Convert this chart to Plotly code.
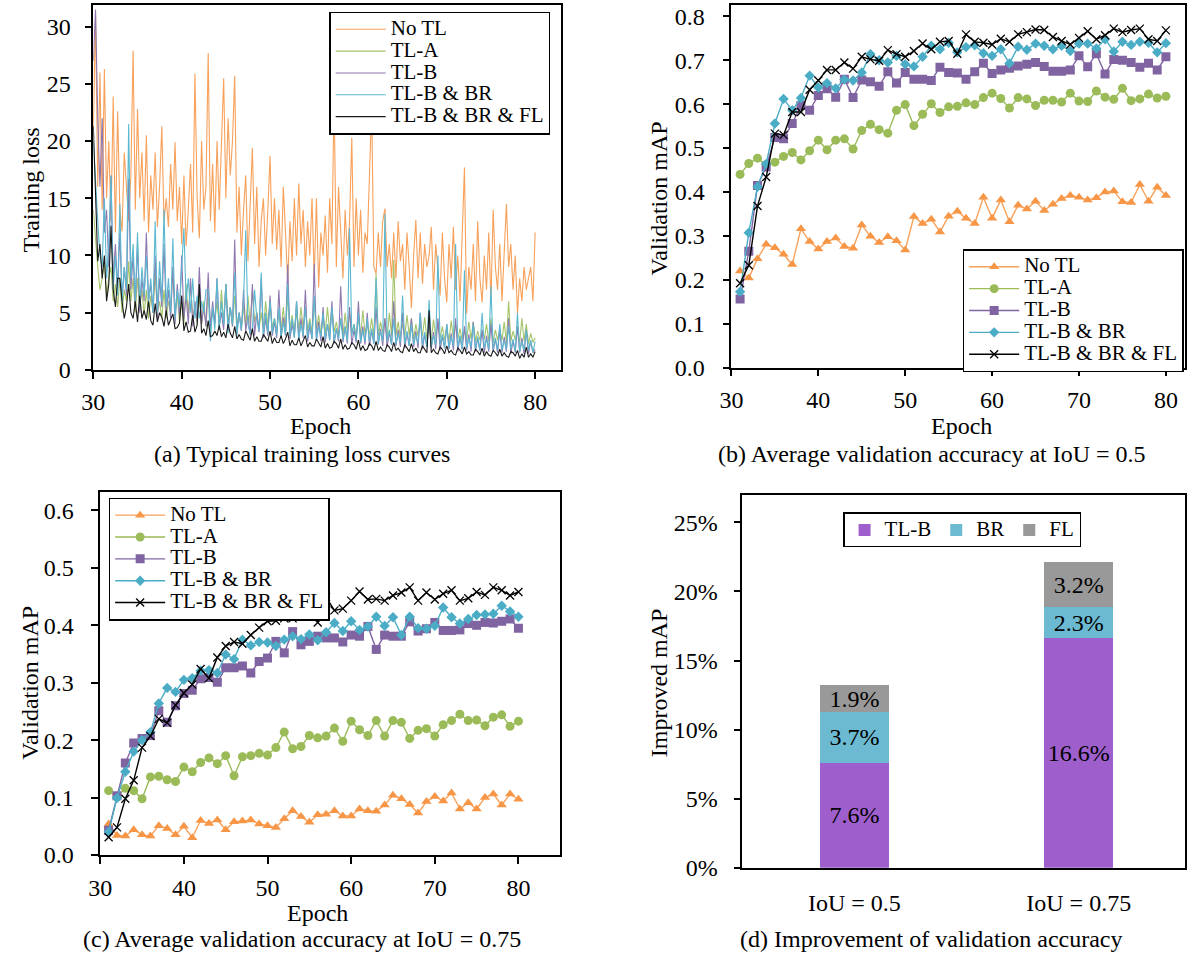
import numpy as np
import plotly.graph_objects as go

SERIF = "Liberation Serif"
W, H = 1187, 968

# ---------------- Data ----------------
SERIES = ["No TL", "TL-A", "TL-B", "TL-B & BR", "TL-B & BR & FL"]
COLORS = ["#F79646", "#9BBB59", "#8064A2", "#4BACC6", "#000000"]
LOSS_COLORS = ["#F8A15A", "#A5C46A", "#8F77B0", "#5BB8D0", "#1A1A1A"]

# (a) training loss, sampled every 0.25 epoch from 30 to 80
loss_epoch = np.arange(30, 80.001, 0.25)

loss_no_tl = [
    21, 31, 16, 26, 14, 26.3, 15, 20, 13, 23.9, 12, 22.6, 14, 12.1, 19, 16,
    13, 17, 27.9, 14, 22.8, 15, 19, 13, 20.5, 12, 17, 14, 19, 12.5, 16, 21.3,
    13, 15, 12.5, 18, 14, 19.9, 13, 16, 11, 17, 10.8, 14, 18, 12, 25.9, 15,
    11.5, 20, 14, 16, 27.7, 13, 18, 12, 20, 14, 19, 25.5, 15, 22, 17, 20,
    25.7, 12, 16, 10, 14, 17, 9.5, 15, 19.4, 11, 16, 9, 13, 15, 10, 14,
    18.7, 11, 15, 10.5, 14, 9, 16, 12, 7.6, 13, 9.5, 15, 10, 16.3, 11, 14,
    9, 13, 10, 15, 8, 15, 7.2, 12, 10, 13.5, 8.5, 15, 11, 24, 9, 16,
    12, 8, 14, 10, 13, 20.3, 9, 15, 10, 14, 8.5, 12, 11, 17, 23, 9,
    8.4, 12, 9, 13, 14.1, 9, 11, 8, 12, 8, 13, 9.5, 11, 7, 12, 9,
    5.4, 10, 13.1, 8, 12, 7.5, 11, 9, 10, 12.5, 7, 11, 9, 6.5, 12, 8,
    5.9, 11, 8, 12.5, 7, 10, 6, 12, 17.7, 4.9, 9, 7, 11, 6, 13, 8,
    5.9, 10, 7, 12, 6, 14, 9, 7, 11, 6, 10, 14.5, 9, 11, 7, 10,
    4.9, 8, 6, 9, 7, 8, 9, 6, 12,
]
loss_tl_a = [
    14, 11, 9, 7, 8, 9.5, 6.5, 8, 9, 6, 7.5, 5.5, 8, 5, 7, 6,
    9.5, 6, 8, 5, 8, 5.5, 7, 4.8, 7, 4.5, 6.5, 5, 8.5, 5, 6, 4.5,
    7, 4.5, 6, 5, 9, 5, 6.5, 4.2, 6, 4, 7.5, 4.8, 7.5, 4.5, 5.5, 4,
    6.5, 4, 6, 3.8, 7, 4, 5, 4.2, 6, 3.8, 7, 4, 7.5, 4.2, 5.5, 3.8,
    6.5, 4, 5, 3.6, 5.5, 3.8, 6.5, 4, 7, 4.2, 5, 3.5, 5, 3.5, 6, 3.8,
    6, 3.7, 4.5, 3.4, 5, 3.5, 5.5, 3.3, 6.5, 3.6, 4.8, 3.2, 5, 3.3, 5.5, 3.5,
    5.5, 3.4, 4.5, 3.2, 6, 3.5, 4.8, 3.1, 4.5, 3.2, 5.5, 3.3, 5.5, 3.3, 4.2, 3,
    4.5, 3, 5, 3.2, 5, 3.2, 4, 2.9, 4.5, 3, 5.2, 3.1, 4, 3.1, 4.5, 2.9,
    8.4, 3, 4.2, 3.2, 4.5, 2.8, 5, 3, 9.6, 3, 4.2, 2.8, 4, 2.9, 4.8, 3,
    4.5, 2.7, 4, 2.9, 4, 3, 4.6, 2.7, 3.8, 2.6, 4.4, 2.9, 4.2, 2.8, 3.8, 2.6,
    3.6, 2.5, 4.3, 2.8, 4, 2.7, 3.6, 2.5, 3.5, 2.6, 4.2, 2.7, 4.2, 2.5, 3.4, 2.6,
    3.5, 2.7, 4, 2.5, 4.5, 2.4, 3.5, 2.6, 3.5, 2.6, 4.2, 2.4, 6, 2.5, 3.4, 2.6,
    3.5, 2.4, 4.5, 2.5, 4, 2.3, 3.2, 2.4, 2.8,
]
loss_tl_b = [
    27, 31.5, 22, 16, 22, 12, 14, 9, 17, 8, 11, 7, 12, 6, 9, 6.5,
    16.7, 7, 10, 5.5, 11, 5, 8, 6, 12, 6, 7.5, 5, 10, 4.5, 8, 5.5,
    11, 5, 7, 4.5, 9, 4, 7.5, 4.8, 10, 4.5, 6.5, 4, 8, 3.8, 6, 4.2,
    9, 4, 5.5, 3.8, 8.5, 3.5, 6, 4, 8, 3.8, 5, 3.5, 7.5, 3.5, 5.5, 3.8,
    11.4, 3.2, 5, 3.4, 7, 3.4, 4.8, 3, 7.5, 3, 5, 3.3, 8, 2.8, 4.5, 3,
    6.5, 3, 4.2, 2.8, 7, 2.8, 4.6, 3, 9.2, 2.7, 4, 2.9, 6, 2.6, 4.5, 2.8,
    7, 2.5, 3.8, 2.7, 9.3, 2.6, 4.2, 2.5, 5.5, 2.4, 4, 2.6, 6, 2.3, 3.6, 2.5,
    7.3, 2.4, 3.8, 2.3, 5.5, 2.2, 3.5, 2.4, 6, 2.3, 3.8, 2.2, 5, 2.1, 3.4, 2.3,
    5.5, 2.2, 3.6, 2.1, 4.5, 2, 3.3, 2.2, 6, 2.1, 3.5, 2, 5, 1.9, 3.2, 2.1,
    4.5, 2, 3.4, 1.9, 5, 1.8, 3.1, 2, 4.2, 1.9, 3.3, 1.8, 4.5, 1.7, 3, 1.9,
    4, 1.8, 3.2, 1.7, 4.5, 1.6, 2.9, 1.8, 3.8, 1.7, 3.1, 1.6, 4.2, 1.6, 2.8, 1.7,
    3.5, 1.5, 3, 1.6, 4, 1.6, 2.7, 1.5, 3.5, 1.5, 2.9, 1.6, 4.5, 1.4, 2.6, 1.5,
    3.8, 1.5, 2.8, 1.4, 3.5, 1.4, 2.5, 1.5, 1.8,
]
loss_tl_b_br = [
    20, 16, 13, 10, 9, 15, 8, 11, 17, 7, 10, 6.5, 14.5, 6, 9, 7,
    21.5, 8, 11, 6, 12, 5.5, 9, 6.5, 10, 6, 8, 5, 13, 5, 9.5, 6,
    14, 5.5, 8, 5, 11.5, 4.5, 7, 5.5, 9, 12.4, 6, 8, 5, 8, 4.5, 6.5,
    4.5, 6, 5, 7, 7, 2.5, 5.5, 3.5, 8, 3.5, 6, 4, 7.5, 3.2, 5.5, 4,
    8.5, 3, 5, 3.5, 6, 12.2, 4, 3.2, 3.5, 7, 4.5, 3.4, 8.5, 3, 5, 3.2,
    6, 3.2, 4.5, 3, 5.5, 2.8, 4.2, 3.1, 7.5, 3, 4.5, 2.8, 6, 2.7, 4, 3,
    5.5, 2.8, 4.2, 2.7, 6.5, 2.6, 3.8, 2.9, 5, 2.7, 4, 2.6, 5.5, 2.5, 3.6, 2.7,
    4.5, 2.6, 3.8, 2.5, 12.4, 3, 4, 2.6, 5, 2.4, 3.5, 2.5, 4.5, 2.5, 3.6, 2.3,
    8, 2.3, 3.4, 2.5, 13.6, 2.5, 3.5, 2.2, 4.5, 2.2, 3.2, 2.4, 6.5, 2.3, 3.4, 2.1,
    4, 2.2, 3.1, 2.3, 5, 2.1, 3.3, 2, 6.1, 2, 3, 2.2, 10, 2.2, 3.1, 1.9,
    4, 1.9, 2.9, 2.1, 11, 2, 3, 1.8, 8.7, 1.9, 2.8, 2, 4, 1.8, 2.9, 1.7,
    5, 1.9, 2.7, 1.8, 7.3, 1.8, 2.8, 1.7, 4, 1.7, 2.6, 1.8, 3.8, 1.8, 2.7, 1.6,
    5, 1.6, 2.5, 1.7, 3.5, 1.7, 2.6, 1.5, 2.5,
]
loss_fl = [
    21.3, 15.5, 9.5, 11, 8, 10, 6, 7.5, 12.6, 7, 5.5, 8, 8, 6, 4.5, 5.5,
    7.5, 5, 4.5, 6, 4.2, 6.5, 4.5, 5.2, 4.4, 6, 4.3, 3.9, 5.8, 4.2, 5, 4.6,
    3.8, 5.2, 3.9, 4.4, 4.9, 3.6, 3.7, 4.1, 6.5, 3.4, 4.2, 3.3, 3.4, 4.8, 3.3, 3.9,
    7.5, 3.2, 3.6, 3, 4.3, 2.9, 3, 3.4, 3, 3.9, 2.9, 3.3, 2.8, 4, 3.2, 2.8,
    3.8, 2.7, 3.1, 2.7, 2.6, 3.4, 3, 2.6, 3.6, 2.5, 2.9, 2.5, 2.5, 3.1, 2.8, 2.5,
    3.4, 2.3, 2.8, 2.4, 2.4, 3, 2.3, 2.7, 3.3, 2.1, 2.6, 2.2, 2.2, 2.8, 2.1, 2.5,
    3, 2, 2.4, 2.1, 2.1, 2.7, 2.4, 2, 2.9, 1.9, 2.3, 1.9, 2, 2.5, 2.3, 1.9,
    2.7, 1.8, 2.2, 1.8, 1.9, 2.4, 2.2, 1.8, 2.6, 1.7, 2.1, 1.7, 1.8, 2.3, 2.1, 1.7,
    2.5, 1.7, 2, 1.7, 1.6, 2.2, 2, 1.6, 2.4, 1.7, 1.9, 1.6, 1.5, 2.2, 1.9, 1.6,
    2.3, 1.6, 1.9, 1.5, 1.5, 2.1, 1.8, 1.5, 5.2, 1.5, 1.8, 1.5, 1.4, 2, 1.8, 1.4,
    2.1, 1.5, 1.7, 1.4, 1.3, 1.9, 1.7, 1.4, 2, 1.4, 1.6, 1.3, 1.3, 1.8, 1.6, 1.3,
    1.9, 1.2, 1.6, 1.3, 1.2, 1.7, 1.5, 1.2, 1.8, 1.2, 1.5, 1.2, 1.1, 1.6, 1.5, 1.2,
    1.7, 1.0, 1.4, 1.1, 2, 1.1, 1.4, 1.1, 1.6,
]

# (b) validation mAP at IoU = 0.5 (epochs 31..80)
epochs = list(range(31, 81))
map50_no_tl = [
    0.220, 0.204, 0.248, 0.281, 0.273, 0.258, 0.235, 0.316, 0.287, 0.270,
    0.287, 0.295, 0.276, 0.272, 0.325, 0.299, 0.285, 0.298, 0.289, 0.268,
    0.344, 0.328, 0.338, 0.309, 0.345, 0.356, 0.340, 0.328, 0.388, 0.340,
    0.382, 0.332, 0.370, 0.361, 0.379, 0.358, 0.372, 0.385, 0.392, 0.388,
    0.382, 0.387, 0.400, 0.402, 0.378, 0.376, 0.417, 0.379, 0.411, 0.392,
]
map50_tl_a = [
    0.440, 0.465, 0.477, 0.462, 0.468, 0.481, 0.490, 0.473, 0.494, 0.518,
    0.496, 0.518, 0.521, 0.498, 0.540, 0.554, 0.542, 0.534, 0.586, 0.599,
    0.551, 0.577, 0.601, 0.581, 0.594, 0.595, 0.603, 0.599, 0.615, 0.625,
    0.613, 0.591, 0.615, 0.612, 0.597, 0.609, 0.609, 0.605, 0.625, 0.607,
    0.606, 0.630, 0.616, 0.611, 0.636, 0.608, 0.612, 0.623, 0.614, 0.618,
]
map50_tl_b = [
    0.156, 0.265, 0.415, 0.457, 0.524, 0.521, 0.556, 0.597, 0.586, 0.620,
    0.635, 0.616, 0.657, 0.615, 0.655, 0.651, 0.641, 0.674, 0.648, 0.672,
    0.657, 0.657, 0.654, 0.684, 0.672, 0.671, 0.657, 0.674, 0.693, 0.670,
    0.678, 0.682, 0.687, 0.691, 0.695, 0.686, 0.675, 0.675, 0.678, 0.710,
    0.685, 0.715, 0.669, 0.702, 0.700, 0.695, 0.684, 0.693, 0.678, 0.708,
]
map50_tl_b_br = [
    0.173, 0.307, 0.412, 0.464, 0.556, 0.612, 0.586, 0.614, 0.665, 0.638,
    0.648, 0.636, 0.656, 0.654, 0.672, 0.714, 0.700, 0.695, 0.710, 0.691,
    0.686, 0.708, 0.733, 0.725, 0.740, 0.718, 0.730, 0.734, 0.716, 0.710,
    0.725, 0.693, 0.731, 0.724, 0.738, 0.733, 0.725, 0.733, 0.721, 0.738,
    0.738, 0.727, 0.748, 0.720, 0.742, 0.735, 0.742, 0.740, 0.718, 0.739,
]
map50_fl = [
    0.192, 0.233, 0.368, 0.434, 0.533, 0.530, 0.582, 0.582, 0.633, 0.654,
    0.678, 0.678, 0.695, 0.681, 0.708, 0.702, 0.699, 0.723, 0.714, 0.708,
    0.721, 0.738, 0.725, 0.742, 0.744, 0.715, 0.759, 0.742, 0.740, 0.736,
    0.749, 0.742, 0.759, 0.764, 0.770, 0.769, 0.753, 0.744, 0.736, 0.751,
    0.766, 0.748, 0.757, 0.772, 0.764, 0.769, 0.772, 0.748, 0.744, 0.768,
]

# (c) validation mAP at IoU = 0.75 (epochs 31..80)
map75_no_tl = [
    0.054, 0.034, 0.033, 0.044, 0.035, 0.033, 0.051, 0.046, 0.035, 0.050,
    0.030, 0.060, 0.055, 0.061, 0.044, 0.058, 0.059, 0.061, 0.054, 0.051,
    0.048, 0.063, 0.077, 0.067, 0.057, 0.070, 0.071, 0.077, 0.068, 0.068,
    0.080, 0.077, 0.076, 0.087, 0.104, 0.098, 0.088, 0.073, 0.093, 0.102,
    0.094, 0.108, 0.080, 0.091, 0.080, 0.100, 0.106, 0.087, 0.106, 0.097,
]
map75_tl_a = [
    0.112, 0.101, 0.116, 0.112, 0.098, 0.136, 0.137, 0.131, 0.128, 0.153,
    0.145, 0.161, 0.169, 0.159, 0.173, 0.138, 0.171, 0.173, 0.177, 0.174,
    0.187, 0.214, 0.185, 0.189, 0.208, 0.204, 0.207, 0.221, 0.198, 0.233,
    0.218, 0.208, 0.234, 0.207, 0.234, 0.231, 0.203, 0.217, 0.220, 0.207,
    0.227, 0.234, 0.245, 0.234, 0.235, 0.225, 0.240, 0.244, 0.224, 0.233,
]
map75_tl_b = [
    0.043, 0.103, 0.160, 0.195, 0.203, 0.208, 0.251, 0.231, 0.260, 0.281,
    0.287, 0.307, 0.309, 0.301, 0.326, 0.326, 0.329, 0.317, 0.337, 0.343,
    0.372, 0.352, 0.389, 0.366, 0.372, 0.381, 0.378, 0.378, 0.371, 0.383,
    0.381, 0.398, 0.358, 0.383, 0.381, 0.381, 0.406, 0.390, 0.394, 0.405,
    0.391, 0.391, 0.392, 0.403, 0.400, 0.405, 0.404, 0.407, 0.411, 0.395,
]
map75_tl_b_br = [
    0.040, 0.099, 0.145, 0.180, 0.200, 0.214, 0.264, 0.291, 0.284, 0.305,
    0.308, 0.321, 0.322, 0.317, 0.349, 0.341, 0.375, 0.365, 0.371, 0.370,
    0.364, 0.375, 0.381, 0.376, 0.384, 0.374, 0.388, 0.404, 0.390, 0.407,
    0.392, 0.398, 0.415, 0.399, 0.414, 0.383, 0.415, 0.395, 0.394, 0.399,
    0.431, 0.414, 0.403, 0.411, 0.418, 0.419, 0.420, 0.434, 0.424, 0.415,
]
map75_fl = [
    0.031, 0.048, 0.098, 0.130, 0.187, 0.207, 0.237, 0.230, 0.261, 0.282,
    0.297, 0.324, 0.308, 0.344, 0.364, 0.371, 0.368, 0.383, 0.396, 0.407,
    0.408, 0.412, 0.412, 0.428, 0.423, 0.405, 0.449, 0.426, 0.429, 0.443,
    0.459, 0.445, 0.446, 0.443, 0.452, 0.457, 0.466, 0.443, 0.457, 0.445,
    0.455, 0.461, 0.443, 0.447, 0.458, 0.453, 0.466, 0.461, 0.452, 0.458,
]

# (d) improvement of validation accuracy
iou_labels = ["IoU = 0.5", "IoU = 0.75"]
improve_tl_b = [0.076, 0.166]
improve_br = [0.037, 0.023]
improve_fl = [0.019, 0.032]
BAR_NAMES = ["TL-B", "BR", "FL"]
BAR_COLORS = ["#9E5FCC", "#6CBAD2", "#999999"]

# ---------------- Figure ----------------
fig = go.Figure()

def leg_name(s):
    return '<span style="font-size:21px">' + s + '</span>'

loss_y = [loss_no_tl, loss_tl_a, loss_tl_b, loss_tl_b_br, loss_fl]
for name, col, ys in zip(SERIES, LOSS_COLORS, loss_y):
    fig.add_trace(go.Scatter(
        x=loss_epoch, y=ys, mode="lines", name=leg_name(name),
        line=dict(color=col, width=1.1), xaxis="x", yaxis="y",
        legend="legend"))

SYMBOLS = ["triangle-up", "circle", "square", "diamond", "x-thin"]
SIZES = [9, 9, 9, 8, 8]

def add_map(series_vals, xa, ya, leg):
    for name, col, sym, sz, ys in zip(SERIES, COLORS, SYMBOLS, SIZES, series_vals):
        mk = dict(symbol=sym, size=sz, color=col)
        if sym == "x-thin":
            mk["line"] = dict(color=col, width=1.3)
        lc = "#F8A15A" if col == "#F79646" else col
        fig.add_trace(go.Scatter(
            x=epochs, y=ys, mode="lines+markers", name=leg_name(name),
            line=dict(color=lc, width=1.4), marker=mk,
            xaxis=xa, yaxis=ya, legend=leg))

add_map([map50_no_tl, map50_tl_a, map50_tl_b, map50_tl_b_br, map50_fl], "x2", "y2", "legend2")
add_map([map75_no_tl, map75_tl_a, map75_tl_b, map75_tl_b_br, map75_fl], "x3", "y3", "legend3")

for name, col, vals in zip(BAR_NAMES, BAR_COLORS, [improve_tl_b, improve_br, improve_fl]):
    fig.add_trace(go.Bar(
        x=iou_labels, y=vals, name=leg_name(name), marker=dict(color=col, line=dict(width=0)),
        width=0.31, texttemplate="%{y:.1%}", textposition="inside",
        insidetextanchor="middle", textangle=0,
        textfont=dict(family=SERIF, size=24, color="black"),
        xaxis="x4", yaxis="y4", legend="legend4"))

def px_x(p):
    return p / W

def px_y(p):
    return 1 - p / H

tickfont = dict(family=SERIF, size=24, color="black")
common = dict(showline=True, linecolor="black", linewidth=1.5, mirror=True,
              ticks="outside", ticklen=7, tickwidth=1.5, tickcolor="black",
              showgrid=False, zeroline=False, tickfont=tickfont)

fig.update_layout(
    width=W, height=H, margin=dict(l=0, r=0, t=0, b=0),
    paper_bgcolor="white", plot_bgcolor="white",
    font=dict(family=SERIF, color="black"),
    barmode="stack",
    uniformtext=dict(minsize=24, mode="show"),
    xaxis=dict(domain=[px_x(82.3), px_x(555.3)], range=[30, 82.9], tickvals=[30, 40, 50, 60, 70, 80],
               anchor="y", ticklabelstandoff=3, **common),
    yaxis=dict(domain=[px_y(374.3), px_y(4)], range=[0, 31.9], dtick=5,
               anchor="x", ticklabelstandoff=9, **common),
    xaxis2=dict(domain=[px_x(728), px_x(1187)], range=[30, 82.2], tickvals=[30, 40, 50, 60, 70, 80],
                anchor="y2", ticklabelstandoff=3, **common),
    yaxis2=dict(domain=[px_y(372), px_y(4)], range=[0, 0.826], dtick=0.1, tickformat=".1f",
                anchor="x2", ticklabelstandoff=13, **common),
    xaxis3=dict(domain=[px_x(89.3), px_x(554.8)], range=[30, 85], tickvals=[30, 40, 50, 60, 70, 80],
                anchor="y3", ticklabelstandoff=3, **common),
    yaxis3=dict(domain=[px_y(866.5), px_y(498.3)], range=[0, 0.632], dtick=0.1, tickformat=".1f",
                anchor="x3", ticklabelstandoff=13, **common),
    xaxis4=dict(domain=[px_x(739), px_x(1187)], range=[-0.5, 1.474], type="category",
                anchor="y4", showline=True, linecolor="black", linewidth=1.5, mirror=True,
                ticks="", showgrid=False, zeroline=False, tickfont=tickfont, ticklabelstandoff=13),
    yaxis4=dict(domain=[px_y(879.5), px_y(501)], range=[0, 0.27], dtick=0.05, tickformat=".0%",
                anchor="x4", ticklabelstandoff=11, **common),
)

leg_common = dict(xanchor="left", yanchor="top", bgcolor="white", bordercolor="black",
                  borderwidth=1.5, font=dict(family=SERIF, size=14.5, color="black"),
                  tracegroupgap=0, traceorder="normal")
fig.update_layout(
    legend=dict(x=px_x(321), y=px_y(11), itemwidth=50, **leg_common),
    legend2=dict(x=px_x(962), y=px_y(252), itemwidth=50, **leg_common),
    legend3=dict(x=px_x(97.8), y=px_y(504), itemwidth=50, **leg_common),
    legend4=dict(x=px_x(841), y=px_y(519), orientation="h", itemwidth=30, **leg_common),
)

title_font = dict(family=SERIF, size=24, color="black")
annos = [
    ("Epoch", 312, 431, 0), ("Epoch", 961, 431, 0), ("Epoch", 309, 925, 0),
    ("Training loss", 19.5, 192, -90), ("Validation mAP", 655, 200, -90),
    ("Validation mAP", 18, 692, -90), ("Improved mAP", 655, 692, -90),
    ("(a) Typical training loss curves", 293, 460, 0),
    ("(b) Average validation accuracy at IoU = 0.5", 931, 460, 0),
    ("(c) Average validation accuracy at IoU = 0.75", 293, 952, 0),
    ("(d) Improvement of validation accuracy", 930, 952, 0),
]
for text, x, y, ang in annos:
    fig.add_annotation(text=text, x=px_x(x), y=px_y(y), xref="paper", yref="paper",
                       xanchor="center", yanchor="middle", showarrow=False,
                       textangle=ang, font=title_font)

fig.write_html("out.html")
